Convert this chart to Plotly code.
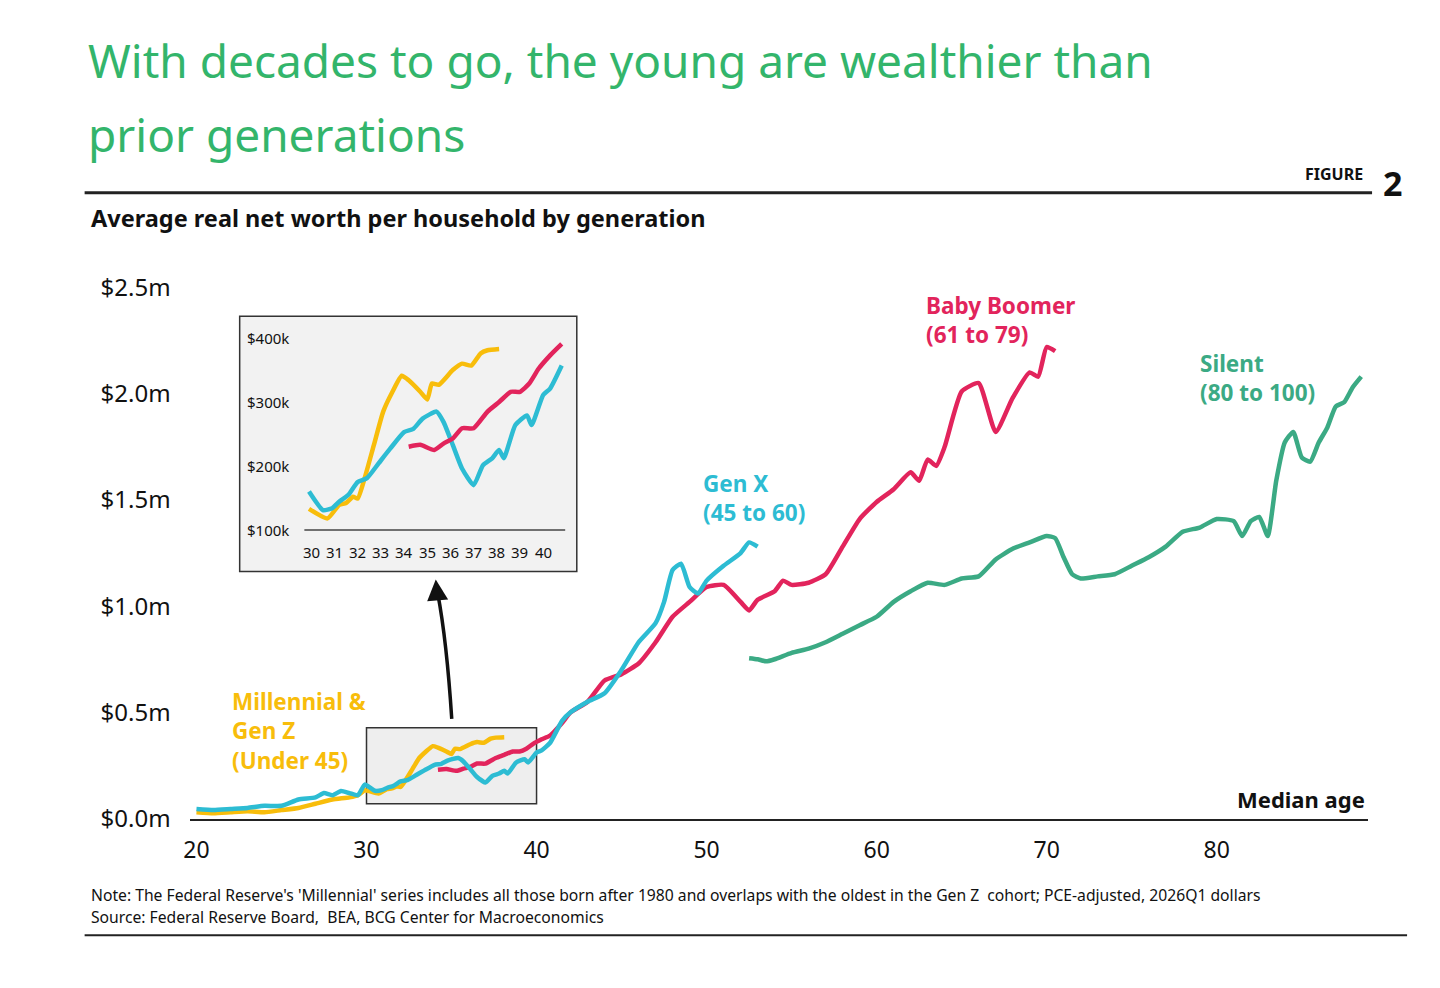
import plotly.graph_objects as go

W, H = 1440, 988
def px(x): return ((x - 6.4) / 0.9955) / W
def py(y): return 1 - ((y - 14.6) / 0.970) / H

# ---- data (main chart, $ millions) ----
mil_age = [20, 21, 22, 23, 24, 25, 26, 27, 28, 29, 29.5, 29.9, 30.7, 31.2, 31.5, 31.8, 32.0, 32.3, 32.7, 33.1, 33.5, 33.9, 34.2, 34.7, 35.0, 35.2, 35.5, 36.1, 36.5, 36.9, 37.3, 37.6, 38.1]
mil_val = [0.03, 0.025, 0.03, 0.035, 0.03, 0.04, 0.05, 0.07, 0.09, 0.10, 0.11, 0.133, 0.118, 0.139, 0.142, 0.152, 0.149, 0.181, 0.233, 0.285, 0.316, 0.341, 0.334, 0.316, 0.304, 0.329, 0.327, 0.350, 0.360, 0.357, 0.376, 0.381, 0.383]

genx_age = [20, 21, 22, 23, 24, 25, 26, 27, 27.5, 28, 28.5, 29, 29.5, 29.9, 30.5, 30.9, 31.2, 31.6, 32.0, 32.4, 32.9, 33.4, 34.0, 34.4, 34.8, 35.4, 35.7, 36.1, 36.5, 37.0, 37.4, 37.8, 38.1, 38.3, 38.8, 39.3, 39.5, 40.0, 40.3, 40.8,
            41.5, 42, 43, 44, 45, 46, 47, 47.5, 48, 48.5, 49, 49.5, 50, 51, 52, 52.5, 53]
genx_val = [0.045, 0.04, 0.045, 0.05, 0.06, 0.06, 0.09, 0.10, 0.12, 0.11, 0.13, 0.12, 0.11, 0.160, 0.131, 0.134, 0.144, 0.155, 0.175, 0.181, 0.204, 0.227, 0.253, 0.258, 0.274, 0.285, 0.269, 0.233, 0.196, 0.170, 0.201, 0.212, 0.225, 0.212, 0.264, 0.279, 0.264, 0.311, 0.321, 0.357,
            0.46, 0.50, 0.55, 0.59, 0.70, 0.83, 0.92, 1.02, 1.17, 1.20, 1.09, 1.06, 1.12, 1.19, 1.25, 1.30, 1.28]

boom_age = [34.2, 34.7, 35.3, 35.7, 36.1, 36.5, 37.0, 37.6, 38.1, 38.6, 39.0, 39.4, 39.8, 40.3, 40.8, 41.5, 42, 43, 44, 45, 46, 47, 48, 49, 50, 51, 52, 52.5, 53, 54, 54.5, 55, 56, 57, 58, 59, 60, 61, 62, 62.5, 63, 63.5, 64, 65, 66, 67, 68, 69, 69.5, 70, 70.5]
boom_val = [0.230, 0.233, 0.225, 0.235, 0.243, 0.259, 0.259, 0.285, 0.300, 0.316, 0.316, 0.329, 0.352, 0.373, 0.391, 0.45, 0.50, 0.55, 0.65, 0.68, 0.73, 0.83, 0.95, 1.02, 1.09, 1.10, 1.02, 0.98, 1.03, 1.07, 1.12, 1.10, 1.11, 1.15, 1.28, 1.41, 1.49, 1.55, 1.63, 1.59, 1.69, 1.66, 1.75, 2.01, 2.05, 1.82, 1.98, 2.10, 2.08, 2.22, 2.20]

sil_age = [52.5, 53, 53.5, 54, 55, 56, 57, 58, 59, 60, 61, 62, 63, 64, 65, 66, 67, 68, 69, 70, 70.5, 71, 71.5, 72, 73, 74, 75, 76, 77, 78, 79, 80, 81, 81.5, 82, 82.5, 83, 83.5, 84, 84.5, 85, 85.5, 86, 86.5, 87, 87.5, 88, 88.5]
sil_val = [0.755, 0.75, 0.74, 0.75, 0.78, 0.80, 0.83, 0.87, 0.91, 0.95, 1.02, 1.07, 1.11, 1.10, 1.13, 1.14, 1.22, 1.27, 1.30, 1.33, 1.32, 1.23, 1.15, 1.13, 1.14, 1.15, 1.19, 1.23, 1.28, 1.35, 1.37, 1.41, 1.40, 1.33, 1.40, 1.42, 1.33, 1.59, 1.77, 1.82, 1.70, 1.68, 1.77, 1.84, 1.94, 1.96, 2.03, 2.08]

y_ticks = [0, 0.5, 1.0, 1.5, 2.0, 2.5]
y_labels = ["$0.0m", "$0.5m", "$1.0m", "$1.5m", "$2.0m", "$2.5m"]
x_ticks = [20, 30, 40, 50, 60, 70, 80]
inset_y_ticks = [100, 200, 300, 400]
inset_y_labels = ["$100k", "$200k", "$300k", "$400k"]
inset_x_ticks = list(range(30, 41))

YEL, CYA, RED, GRN = "#F8BD0B", "#2DBCD3", "#E2245C", "#3BAA84"
FONT = "Noto Sans"

def thin(a, v, lo, hi):
    pts = [(x, y * 1000) for x, y in zip(a, v) if lo <= x <= hi]
    return [p[0] for p in pts], [p[1] for p in pts]

fig = go.Figure()
for a, v, c in [(mil_age, mil_val, YEL), (boom_age, boom_val, RED), (sil_age, sil_val, GRN), (genx_age, genx_val, CYA)]:
    fig.add_trace(go.Scatter(x=a, y=v, mode="lines", line=dict(color=c, width=4.5, shape="spline", smoothing=0.5),
                             hoverinfo="skip", xaxis="x", yaxis="y"))
for a, v, c in [(mil_age, mil_val, YEL), (genx_age, genx_val, CYA), (boom_age, boom_val, RED)]:
    xs, ys = thin(a, v, 29.8, 41)
    fig.add_trace(go.Scatter(x=xs, y=ys, mode="lines", line=dict(color=c, width=4.5, shape="spline", smoothing=0.5),
                             hoverinfo="skip", xaxis="x2", yaxis="y2"))

fig.update_layout(
    width=W, height=H, margin=dict(l=0, r=0, t=0, b=0), showlegend=False,
    paper_bgcolor="white", plot_bgcolor="rgba(0,0,0,0)",
    font=dict(family=FONT, color="#111"),
    xaxis=dict(domain=[px(190), px(1368)], range=[19.6, 88.9], tickvals=x_ticks, showgrid=False, zeroline=False,
               showline=True, linecolor="#222", linewidth=2, ticks="", tickfont=dict(size=23), anchor="y",
               ticklabelstandoff=10),
    yaxis=dict(domain=[py(818), py(285)], range=[0, 2.5], tickvals=y_ticks, ticktext=y_labels, showgrid=False,
               zeroline=False, showline=False, ticks="", tickfont=dict(size=24), ticklabelstandoff=18, anchor="x"),
    xaxis2=dict(domain=[px(240), px(577)], range=[26.91, 41.45], visible=False, anchor="y2"),
    yaxis2=dict(domain=[py(570), py(314)], range=[35, 434], visible=False, anchor="x2"),
)

shapes = [
    dict(type="rect", xref="x", yref="y", x0=30, x1=40, y0=0.07, y1=0.427, fillcolor="#eeeeee",
         line=dict(color="#333", width=1.5), layer="below"),
    dict(type="rect", xref="paper", yref="paper", x0=px(240), x1=px(577), y0=py(570), y1=py(314), fillcolor="#f2f2f2",
         line=dict(color="#333", width=1.5), layer="below"),
    dict(type="line", xref="x2", yref="y2", x0=29.7, x1=40.95, y0=100, y1=100, line=dict(color="#444", width=1.5)),
    dict(type="line", xref="paper", yref="paper", x0=px(85), x1=px(1372), y0=py(190), y1=py(190), line=dict(color="#222", width=3)),
    dict(type="line", xref="paper", yref="paper", x0=px(85), x1=px(1407), y0=py(935), y1=py(935), line=dict(color="#222", width=2)),
    dict(type="path", xref="paper", yref="paper",
         path=f"M {px(452)},{py(718)} Q {px(447)},{py(640)} {px(438)},{py(592)}", line=dict(color="#111", width=3.5)),
]
fig.update_layout(shapes=shapes)

anns = []
def txt(x, y, t, size, color="#111", xanchor="left", yanchor="middle", bold=False, align="left"):
    anns.append(dict(x=px(x), y=py(y), xref="paper", yref="paper", text=(f"<b>{t}</b>" if bold else t), showarrow=False,
                     font=dict(size=size, color=color, family=FONT), xanchor=xanchor, yanchor=yanchor, align=align))

txt(86, 57, "With decades to go, the young are wealthier than", 46, "#33B56B")
txt(86, 131, "prior generations", 46, "#33B56B")
txt(1365, 171, "FIGURE", 16, bold=True, xanchor="right")
txt(1392, 180, "2", 34, bold=True, xanchor="center")
txt(89, 215, "Average real net worth per household by generation", 23.5, bold=True)
txt(1367, 798, "Median age", 22, bold=True, xanchor="right")
txt(230, 730, "Millennial &<br>Gen Z<br>(Under 45)", 22.5, YEL, bold=True, yanchor="middle")
txt(701, 496, "Gen X<br>(45 to 60)", 22.5, CYA, bold=True)
txt(924, 318, "Baby Boomer<br>(61 to 79)", 22.5, RED, bold=True)
txt(1198, 376, "Silent<br>(80 to 100)", 22.5, GRN, bold=True)
txt(89, 895, "Note: The Federal Reserve's 'Millennial' series includes all those born after 1980 and overlaps with the oldest in the Gen Z  cohort; PCE-adjusted, 2026Q1 dollars", 15.7)
txt(89, 917, "Source: Federal Reserve Board,  BEA, BCG Center for Macroeconomics", 15.7)
for v, l in zip(inset_y_ticks, inset_y_labels):
    anns.append(dict(x=px(245), y=v, xref="paper", yref="y2", text=l, showarrow=False, xanchor="left",
                     font=dict(size=15, family=FONT, color="#111")))
for v in inset_x_ticks:
    anns.append(dict(x=v, y=py(550), xref="x2", yref="paper", text=str(v), showarrow=False, xanchor="center",
                     font=dict(size=15, family=FONT, color="#111")))
anns.append(dict(x=px(436), y=py(578), xref="paper", yref="paper", ax=2, ay=22, axref="pixel", ayref="pixel",
                 showarrow=True, arrowhead=2, arrowsize=1.2, arrowwidth=3.5, arrowcolor="#111", text=""))
fig.update_layout(annotations=anns)

fig.write_html("out.html", config={"displayModeBar": False},
               post_script="document.body.style.margin='0';document.body.style.overflow='hidden';")
